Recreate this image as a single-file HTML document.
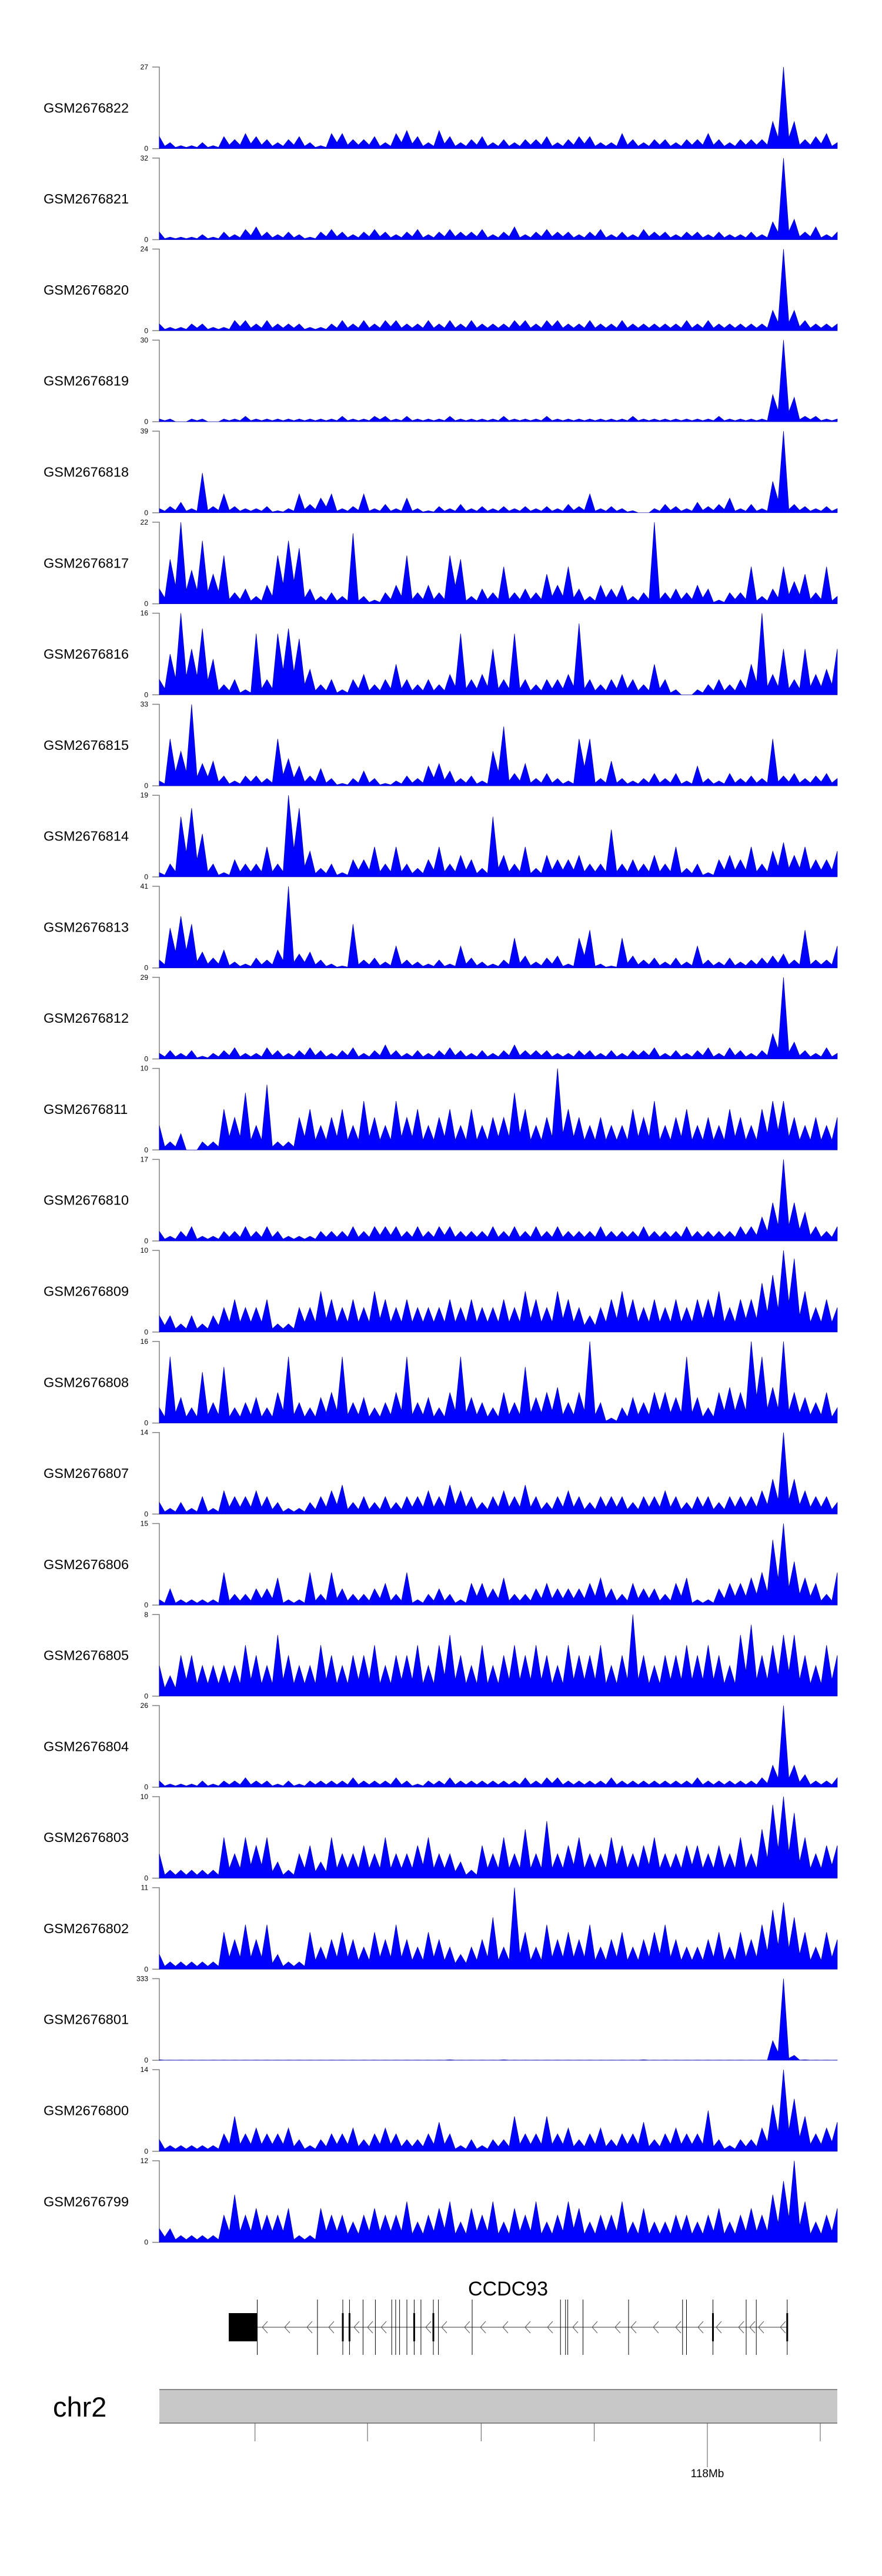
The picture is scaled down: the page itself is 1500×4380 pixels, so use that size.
<!DOCTYPE html>
<html><head><meta charset="utf-8"><style>
html,body{margin:0;padding:0;background:#fff;}
svg{display:block;font-family:"Liberation Sans",Arial,sans-serif;}
</style></head><body>
<svg id="chart" width="1500" height="4380" viewBox="0 0 1500 4380" xmlns="http://www.w3.org/2000/svg">
<g id="tracks"></g>
<g id="gene"></g>
<g id="ideo"></g>
</svg>
<script>
const sampleNames=["GSM2676822","GSM2676821","GSM2676820","GSM2676819","GSM2676818","GSM2676817","GSM2676816","GSM2676815","GSM2676814","GSM2676813","GSM2676812","GSM2676811","GSM2676810","GSM2676809","GSM2676808","GSM2676807","GSM2676806","GSM2676805","GSM2676804","GSM2676803","GSM2676802","GSM2676801","GSM2676800","GSM2676799"];
const yMax=[27,32,24,30,39,22,16,33,19,41,29,10,17,10,16,14,15,8,26,10,11,333,14,12];
const s822=[4,2,1,1,2,1,4,3,5,4,3,2,3,4,2,1,5,5,3,3,4,2,5,6,4,2,6,4,2,3,4,2,3,2,3,3,4,2,3,4,4,2,2,5,3,2,3,3,2,3,3,5,3,2,3,3,3,9,27,9,3,4,5,2];
const s821=[3,1,1,1,2,1,3,2,4,5,3,2,3,2,1,3,4,3,2,3,4,3,2,3,4,2,3,4,3,3,4,2,3,5,2,3,4,3,3,2,3,4,2,3,2,4,3,3,2,3,3,2,3,2,2,3,2,7,32,8,3,5,2,3];
const s820=[2,1,1,2,2,1,1,3,3,2,3,2,2,2,1,1,2,3,2,3,2,3,3,2,2,3,2,3,2,3,2,2,2,3,3,2,3,3,2,2,3,2,2,3,2,2,2,2,2,3,2,3,2,2,2,2,2,6,24,6,3,2,2,2];
const s819=[1,1,0,1,1,0,1,1,2,1,1,1,1,1,1,1,1,2,1,1,2,2,1,2,1,1,1,2,1,1,1,1,2,1,1,1,2,1,1,1,1,1,1,1,2,1,1,1,1,1,1,1,2,1,1,1,1,10,30,9,2,2,1,1];
const s818=[2,3,5,2,19,3,9,3,2,2,3,1,2,9,4,7,9,2,3,9,2,4,2,7,2,1,3,2,4,2,3,2,3,2,3,2,3,2,4,3,9,2,3,2,1,0,2,4,3,2,5,3,4,7,2,4,2,15,39,4,3,2,3,2];
const s817=[4,12,22,9,17,8,13,3,4,2,5,13,17,15,4,2,3,2,19,2,1,3,5,13,3,5,3,13,12,2,4,3,10,3,4,3,8,5,10,4,2,5,4,5,2,3,22,3,4,3,5,4,1,3,3,10,2,4,10,6,8,3,10,2];
const s816=[3,8,16,9,13,7,2,3,1,12,3,12,13,11,5,2,3,1,3,4,2,3,6,3,2,3,2,4,12,3,4,9,3,12,3,2,3,3,4,14,3,2,3,4,3,2,6,3,1,0,1,2,3,2,3,6,16,4,9,3,9,4,5,9];
const s815=[2,19,14,33,9,10,4,2,4,4,3,19,11,8,4,7,3,1,3,6,3,1,2,4,3,8,9,6,3,4,2,14,24,5,9,3,5,3,2,19,19,3,10,3,2,3,5,3,5,2,8,3,2,5,3,4,3,19,4,5,3,4,5,3];
const s814=[1,3,14,16,10,3,1,4,3,3,7,3,19,16,6,2,3,1,4,4,7,3,7,3,2,4,7,3,5,4,2,14,5,3,7,2,5,4,4,5,3,3,11,3,4,3,5,3,7,2,3,1,4,5,4,7,3,6,8,5,7,4,4,6];
const s813=[4,20,26,22,8,5,9,3,2,5,4,9,41,7,8,4,2,1,22,4,5,3,11,4,3,2,4,2,11,5,3,2,4,15,6,3,5,6,2,15,19,2,1,15,6,4,5,3,5,3,11,4,3,5,3,4,5,6,7,4,19,4,4,11];
const s812=[2,3,2,3,1,2,3,4,2,2,4,3,2,3,4,3,2,3,4,2,3,5,3,2,3,2,3,4,3,2,3,2,3,5,3,3,3,2,2,3,3,2,3,2,3,3,4,2,3,2,3,4,2,4,3,2,3,9,29,6,3,2,4,2];
const s811=[3,1,2,0,1,1,5,4,7,3,8,1,1,4,5,3,4,5,3,6,4,3,6,4,5,3,4,5,3,5,3,4,4,7,5,3,4,10,5,4,3,4,3,3,5,4,6,3,4,5,3,4,3,5,4,3,5,6,6,4,3,4,3,4];
const s810=[2,1,2,3,1,1,2,2,3,2,3,2,1,1,1,2,2,2,3,2,3,3,3,2,3,2,3,3,2,2,2,3,2,3,2,3,2,3,2,2,2,3,2,2,2,3,2,2,2,3,2,2,2,2,3,3,5,8,17,8,6,3,2,3];
const s809=[2,2,1,2,1,2,3,4,3,3,4,1,1,3,3,5,4,3,4,3,5,4,3,4,3,3,3,4,3,4,3,3,4,3,5,4,3,5,4,3,2,3,4,5,4,3,4,3,4,3,4,4,5,3,4,4,6,7,10,9,5,3,4,3];
const s808=[3,13,5,3,10,4,11,3,4,5,3,6,13,4,3,5,6,13,4,5,3,4,6,13,4,5,3,6,13,5,4,3,6,4,11,5,6,7,4,6,16,4,1,3,5,4,6,6,5,13,5,3,6,7,6,16,13,7,16,6,5,4,6,3];
const s807=[2,1,2,1,3,1,4,3,3,4,3,2,1,1,2,3,4,5,2,3,2,3,2,3,3,4,3,5,4,3,2,3,4,3,5,3,2,3,4,3,2,3,3,3,2,3,3,4,3,2,3,3,2,3,3,3,4,6,14,6,4,3,3,2];
const s806=[1,3,1,1,1,1,6,2,2,3,3,5,1,1,6,2,6,3,2,2,3,4,2,6,1,2,3,2,1,4,4,3,5,2,2,3,4,3,3,3,4,5,3,2,4,3,3,2,4,5,1,1,3,4,4,5,6,12,15,8,5,4,2,6];
const s805=[3,2,4,4,3,3,3,3,5,4,3,6,4,3,3,5,4,3,4,4,5,3,4,4,5,3,5,6,4,3,5,3,4,5,4,5,4,3,5,4,4,5,3,4,8,4,3,4,4,5,4,5,4,3,6,7,4,5,6,6,4,3,5,4];
const s804=[2,1,1,1,2,1,2,2,3,2,2,1,2,1,2,2,2,2,3,2,2,2,3,2,1,2,2,3,2,2,2,2,2,2,3,2,3,3,2,2,2,2,3,2,2,2,2,2,2,2,3,2,2,2,2,2,3,7,26,7,4,2,2,3];
const s803=[3,1,1,1,1,1,5,3,5,4,5,2,1,3,4,2,5,3,3,4,3,5,3,3,4,5,3,3,2,1,4,3,5,3,6,3,7,3,4,5,3,3,5,4,3,4,5,3,3,4,4,3,4,3,5,3,6,9,10,8,5,3,4,4];
const s802=[2,1,1,1,1,1,5,4,6,4,6,2,1,1,5,3,4,5,4,3,5,4,6,4,3,5,4,3,2,3,4,7,3,11,5,3,6,4,5,4,6,3,4,5,3,4,5,6,4,3,3,4,5,3,5,4,6,8,9,7,5,3,5,4];
const s801=[2,1,1,1,1,1,1,1,1,1,1,1,1,1,1,1,1,1,1,1,1,1,1,1,1,1,1,2,1,1,1,1,2,1,1,1,1,1,1,1,1,1,1,1,1,2,1,1,1,1,1,1,1,1,1,1,1,80,333,20,2,1,1,1];
const s800=[2,1,1,1,1,1,3,6,3,4,3,3,4,2,1,2,3,3,4,2,3,4,3,2,2,3,5,3,1,2,1,2,2,6,3,3,6,3,4,2,3,4,2,3,3,5,2,3,4,3,3,7,2,1,2,2,4,8,14,9,6,3,4,5];
const s799=[2,2,1,1,1,1,4,7,4,5,4,4,5,1,1,5,4,4,3,4,5,4,4,6,3,4,5,6,3,5,4,6,3,5,4,6,3,4,6,5,3,4,4,6,3,5,3,3,4,4,3,4,5,3,4,5,4,7,9,12,6,3,4,5];
const seriesValues=[s822,s821,s820,s819,s818,s817,s816,s815,s814,s813,s812,s811,s810,s809,s808,s807,s806,s805,s804,s803,s802,s801,s800,s799];
const exonX=[437.5,539.9,583,594.4,617.4,638.4,666.2,672.9,679.6,692,704.4,715.9,737,745.6,803,953.2,961.8,965.6,991.5,1069,1160.8,1167.5,1212.5,1269,1286.2,1338.8];
const thickExon=[0,0,1,1,0,0,0,0,0,0,1,0,1,0,0,0,0,0,0,0,0,0,1,0,0,1];
const chevronX=[446,484,522,559,602,625,648,724,751,790,817,855,893,931,974,1007,1046,1073,1111,1149,1187,1218,1256,1275,1290,1327];
const chromTicks=[433.7,625,818.3,1010.6,1203,1395];
const chromLabel="118Mb", chromLabelTick=4;

const NS="http://www.w3.org/2000/svg";
function mk(tag,attrs,parent){const e=document.createElementNS(NS,tag);for(const k in attrs)e.setAttribute(k,attrs[k]);parent.appendChild(e);return e;}
const X0=271,X1=1424,TOP0=114,PITCH=154.78,TH=138.7;
function xScale(i,n){return X0+(X1-X0)*i/(n-1);}
function yScale(v,max,top){return top+TH-(Math.min(v,max)/max)*TH;}

const tg=document.getElementById('tracks');
sampleNames.forEach((name,t)=>{
  const top=TOP0+t*PITCH, zero=top+TH;
  const g=mk('g',{},tg);
  
  
  const lab=mk('text',{x:74,y:top+TH/2+8,'font-size':23.5,fill:'#000'},g);
  lab.textContent=name;
  
  
  const ax=mk('path',{d:`M259 ${top}H${X0}V${zero}H259`,fill:'none',stroke:'#808080','stroke-width':1.5},g);
  
  
  const tmax=mk('text',{x:252,y:top+4,'font-size':12,'text-anchor':'end',fill:'#000'},g);
  tmax.textContent=String(yMax[t]);
  
  
  const t0=mk('text',{x:252,y:zero+4,'font-size':12,'text-anchor':'end',fill:'#000'},g);
  t0.textContent='0';
  
  
  const vals=seriesValues[t];
  const n=vals.length;
  let d=`M${X0} ${zero}`;
  vals.forEach((v,i)=>{
    d+=`L${xScale(i,n).toFixed(1)} ${yScale(v,yMax[t],top).toFixed(1)}`;
    if(i<n-1){
      const mv=0.4*Math.min(v,vals[i+1]);
      d+=`L${xScale(i+0.5,n).toFixed(1)} ${yScale(mv,yMax[t],top).toFixed(1)}`;
    }
  });
  d+=`L${X1} ${zero}Z`;
  const area=mk('path',{d:d,fill:'#0000ff',stroke:'#0000a8','stroke-width':0.7},g);
  
  
});

const gg=document.getElementById('gene');
const gl=mk('text',{x:864,y:3903,'font-size':34,'text-anchor':'middle',fill:'#000'},gg);
gl.textContent='CCDC93';


const bb=mk('line',{x1:437.5,y1:3957,x2:1338.8,y2:3957,stroke:'#333','stroke-width':1},gg);


chevronX.forEach(x=>{
  const c=mk('path',{d:`M${x+9} 3947L${x} 3957L${x+9} 3967`,fill:'none',stroke:'#555','stroke-width':1},gg);
  
  
});
const box=mk('rect',{x:389,y:3933,width:48,height:48,fill:'#000'},gg);


exonX.forEach((x,i)=>{
  const l=mk('line',{x1:x,y1:3910,x2:x,y2:4004,stroke:'#000','stroke-width':1},gg);
  
  
  if(thickExon[i]){
    const r=mk('rect',{x:x-1.5,y:3933,width:3,height:48,fill:'#000'},gg);
    
    
  }
});

const ig=document.getElementById('ideo');
const cl=mk('text',{x:90,y:4109,'font-size':47,fill:'#000'},ig);
cl.textContent='chr2';


const bar=mk('rect',{x:X0,y:4063,width:X1-X0,height:57,fill:'#c8c8c8'},ig);


mk('line',{x1:X0,y1:4063,x2:X1,y2:4063,stroke:'#888','stroke-width':2},ig);
mk('line',{x1:X0,y1:4120,x2:X1,y2:4120,stroke:'#666','stroke-width':1.5},ig);
chromTicks.forEach((x,i)=>{
  const tk=mk('line',{x1:x,y1:4120,x2:x,y2:i===chromLabelTick?4195:4151,stroke:'#555','stroke-width':1},ig);
  
  
});
const pl=mk('text',{x:chromTicks[chromLabelTick],y:4212,'font-size':19,'text-anchor':'middle',fill:'#000'},ig);
pl.textContent=chromLabel;


</script>
</body></html>
